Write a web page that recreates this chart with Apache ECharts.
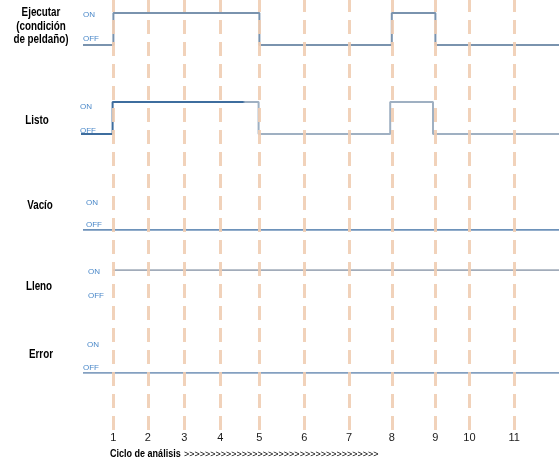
<!DOCTYPE html>
<html>
<head>
<meta charset="utf-8">
<script src="https://cdn.jsdelivr.net/npm/echarts@6/dist/echarts.min.js"></script>
<style>
    html, body { margin: 0; padding: 0; background: #fff; }
    #main { width: 559px; height: 465px; }
</style>
</head>
<body>
<div id="main"></div>
<script>
    // ciclos de análisis y su posición en el eje de tiempo
    const ciclos = ['1', '2', '3', '4', '5', '6', '7', '8', '9', '10', '11'];
    const cicloPos = [1.01, 1.87, 2.78, 3.68, 4.66, 5.78, 6.9, 7.97, 9.06, 9.91, 11.03];
    const estados = ['OFF', 'ON'];

    // señales: instantes de cambio y estado (0 = OFF, 1 = ON)
    const ejecutarT = [0.25, 1.01, 4.66, 7.97, 9.06, 12.15];
    const ejecutarV = [0, 1, 0, 1, 0, 0];
    const listoT = [0.2, 0.99, 4.64, 7.93, 9.0, 12.15];
    const listoV = [0, 1, 0, 1, 0, 0];
    const vacioT = [0.25, 12.15];
    const vacioV = [0, 0];
    const llenoT = [1.0, 12.15];
    const llenoV = [1, 1];
    const errorT = [0.25, 12.15];
    const errorV = [0, 0];

    const tMax = 12.15;
    const sans = '"Liberation Sans", Arial, sans-serif';

    function pairs(t, v) {
        return t.map(function (x, i) { return [x, v[i]]; });
    }

    // estilo de cada fila: posición de la rejilla y ajuste de las etiquetas ON/OFF
    const filas = [
        {t: ejecutarT, v: ejecutarV, top: 13, h: 32, margin: 10, on: [4, 0, 0, 0], off: [0, 0, 12, 0], color: '#7a93ae', width: 2},
        {t: listoT, v: listoV, top: 102, h: 32, margin: 7, on: [9, 0, 0, 0], off: [0, 0, 6, 0],
            color: {type: 'linear', x: 0, y: 0, x2: 1, y2: 0, colorStops: [
                {offset: 0, color: '#3e6d9e'}, {offset: 0.34, color: '#3e6d9e'},
                {offset: 0.345, color: '#9fb0c2'}, {offset: 1, color: '#9fb0c2'}]}, width: 2},
        {t: vacioT, v: vacioV, top: 203, h: 27, margin: 13, on: [0, 0, 0, 0], off: [0, 0, 10, 0], color: '#3d6ea3', width: 1.5},
        {t: llenoT, v: llenoV, top: 270, h: 30, margin: 15, on: [4, 0, 0, 0], off: [0, 0, 9, 0], color: '#8391a3', width: 1.5},
        {t: errorT, v: errorV, top: 345, h: 28, margin: 10, on: [0, 0, 0, 4], off: [0, 0, 11, 0], color: '#5b80ab', width: 1.5}
    ];

    const grid = [], xAxis = [], yAxis = [], series = [];

    filas.forEach(function (f, i) {
        grid.push({left: 73, right: 0, top: f.top, height: f.h});
        xAxis.push({type: 'value', gridIndex: i, min: 0, max: tMax, show: false});
        yAxis.push({
            type: 'category', gridIndex: i, data: estados, boundaryGap: false,
            axisLine: {show: false}, axisTick: {show: false}, splitLine: {show: false},
            axisLabel: {
                inside: true, margin: f.margin,
                formatter: function (val) { return val === 'ON' ? '{on|ON}' : '{off|OFF}'; },
                rich: {
                    on: {color: '#4a88c9', fontSize: 8, fontFamily: sans, padding: f.on},
                    off: {color: '#4a88c9', fontSize: 8, fontFamily: sans, padding: f.off}
                }
            }
        });
        series.push({
            type: 'line', xAxisIndex: i, yAxisIndex: i, step: 'start', symbol: 'none',
            lineStyle: {color: f.color, width: f.width}, z: 2,
            data: pairs(f.t, f.v)
        });
    });

    // rejilla de fondo para las líneas de ciclo
    const gi = filas.length;
    grid.push({left: 73, right: 0, top: 0, bottom: 35});
    xAxis.push({type: 'value', gridIndex: gi, min: 0, max: tMax, show: false});
    yAxis.push({type: 'value', gridIndex: gi, min: 0, max: 1, show: false});
    series.push({
        type: 'line', xAxisIndex: gi, yAxisIndex: gi, symbol: 'none',
        lineStyle: {opacity: 0}, z: 3,
        data: cicloPos.map(function (p) { return [p, 0]; }),
        markLine: {
            silent: true, symbol: ['none', 'none'],
            lineStyle: {color: '#f0cdb2', width: 3, type: [14, 8], opacity: 0.9},
            label: {position: 'start', distance: 2, formatter: '{b}', color: '#000', fontSize: 11, fontFamily: sans},
            data: cicloPos.map(function (p, i) { return {xAxis: p, name: ciclos[i]}; })
        }
    });

    function etiqueta(texto, x, y) {
        return {
            type: 'text', x: x, y: y, scaleX: 0.82,
            style: {text: texto, font: 'bold 12px ' + sans, fill: '#000', lineHeight: 13.5,
                align: 'center', verticalAlign: 'middle', textAlign: 'center', textVerticalAlign: 'middle'}
        };
    }

    const option = {
        animation: false,
        grid: grid,
        xAxis: xAxis,
        yAxis: yAxis,
        series: series,
        graphic: [
            etiqueta('Ejecutar\n(condición\nde peldaño)', 41, 26.5),
            etiqueta('Listo', 37, 121),
            etiqueta('Vacío', 40, 206),
            etiqueta('Lleno', 39, 287),
            etiqueta('Error', 41, 355),
            {type: 'text', x: 110, y: 454, scaleX: 0.82, style: {
                text: 'Ciclo de análisis', font: 'bold 11px ' + sans, fill: '#000',
                align: 'left', verticalAlign: 'middle', textAlign: 'left', textVerticalAlign: 'middle'}},
            {type: 'text', x: 184, y: 455, style: {
                text: '>>>>>>>>>>>>>>>>>>>>>>>>>>>>>>>>>>>>>', font: '9px ' + sans, fill: '#000',
                align: 'left', verticalAlign: 'middle', textAlign: 'left', textVerticalAlign: 'middle'}}
        ]
    };

    const myChart = echarts.init(document.getElementById('main'));
    myChart.setOption(option);
</script>
</body>
</html>
